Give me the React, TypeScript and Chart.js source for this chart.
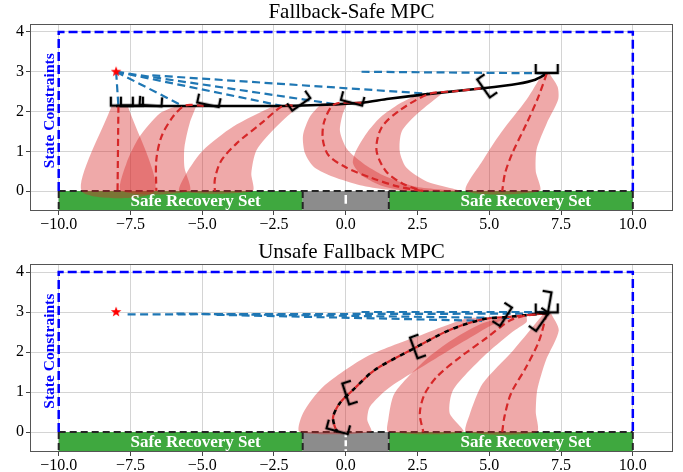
import React, { useEffect, useRef } from 'react';
import { Chart, registerables } from 'chart.js';

Chart.register(...registerables);

type P = [number, number];

const FONT = "'Liberation Serif', 'Times New Roman', serif";

// ---- axes ----
const xTicks = [-10, -7.5, -5, -2.5, 0, 2.5, 5, 7.5, 10];
const yTicks = [0, 1, 2, 3, 4];
const xRange: P = [-11, 11.4];
const yRange: P = [-0.5, 4.2];

// ---- texts ----
const titles = ['Fallback-Safe MPC', 'Unsafe Fallback MPC'];
const setLabel = 'Safe Recovery Set';
const setLabelX = [-7.5, 4.0];
const setLabelY = -0.26;
const constraintLabel = 'State Constraints';
const constraintLabelPos: P = [-10.3, 2.02];

// ---- static regions ----
const target: P = [-8, 3];
const constraintBox: P[] = [[-10, 0], [-10, 4], [10, 4], [10, 0]];
const safeLeft: P[] = [[-10, -0.5], [-10, 0], [-1.5, 0], [-1.5, -0.5]];
const safeRight: P[] = [[1.5, -0.5], [1.5, 0], [10, 0], [10, -0.5]];
const unsafeBox: P[] = [[-1.5, -0.5], [-1.5, 0], [1.5, 0], [1.5, -0.5]];
const boxEdges: P[][] = [
  [[-10, 0], [10, 0]],
  [[-10, 0], [-10, -0.5]],
  [[-1.5, 0], [-1.5, -0.5]],
  [[1.5, 0], [1.5, -0.5]],
  [[10, 0], [10, -0.5]],
];
const topLandingMark: P[] = [[0, -0.1], [0, -0.32]];
const bottomLandingMark: P[] = [[0, 0.02], [0, -0.48]];

// ---- top chart: Fallback-Safe MPC ----
const topTrajectory: P[] = [
  [7.0, 2.95], [6.6, 2.8], [6.0, 2.7], [4.7, 2.58], [3.0, 2.45], [1.5, 2.32],
  [0.55, 2.22], [-0.4, 2.18], [-1.5, 2.15], [-2.2, 2.14], [-4, 2.14], [-5.7, 2.14],
  [-7.0, 2.14], [-8.0, 2.14],
];
const topFallback1: P[] = [[7.0, 2.95], [6.7, 2.35], [6.3, 1.7], [5.8, 0.95], [5.55, 0.45], [5.45, 0]];
const topFallback2: P[] = [[4.7, 2.58], [3.8, 2.51], [2.9, 2.44], [1.9, 2.04], [1.25, 1.6], [1.07, 1.03], [1.4, 0.5], [2.0, 0.18], [2.7, 0]];
const topFallback3: P[] = [[0.55, 2.22], [-0.4, 2.18], [-0.75, 1.75], [-0.8, 1.3], [-0.6, 0.9], [0.0, 0.6], [0.9, 0.33], [1.8, 0.12], [2.7, 0]];
const topFallback4: P[] = [[-1.85, 2.15], [-2.2, 2.14], [-2.95, 1.7], [-3.8, 1.2], [-4.35, 0.75], [-4.56, 0.3], [-4.56, 0]];
const topFallback5: P[] = [[-4.95, 2.14], [-5.6, 2.15], [-6.02, 1.87], [-6.42, 1.37], [-6.6, 0.78], [-6.6, 0]];
const topFallback6: P[] = [[-7.92, 2.14], [-7.95, 0]];

const topBand1: P[] = [[6.85, 2.95], [6.3, 2.3], [5.4, 1.46], [4.8, 0.8], [4.2, 0], [6.75, 0], [6.62, 0.5], [6.65, 1.05], [7.0, 1.7], [7.4, 2.3], [7.38, 2.62], [7.1, 2.95]];
const topBand2: P[] = [[2.5, 2.43], [1.88, 2.2], [1.2, 1.85], [0.72, 1.45], [0.35, 1.0], [0.25, 0.7], [0.55, 0.4], [1.3, 0.12], [2.2, 0], [4.0, 0], [2.8, 0.25], [2.1, 0.6], [1.88, 1.0], [1.95, 1.5], [2.5, 1.95], [3.4, 2.48]];
const topBand3: P[] = [[-0.85, 2.2], [-1.25, 1.87], [-1.49, 1.4], [-1.42, 0.95], [-1.1, 0.6], [-0.44, 0.36], [0.5, 0.15], [1.4, 0.04], [2.3, 0], [3.9, 0], [2.46, 0.11], [1.3, 0.4], [0.6, 0.7], [0.05, 1.05], [-0.2, 1.5], [-0.12, 1.9], [0.05, 2.2]];
const topBand4: P[] = [[-2.53, 2.14], [-3.93, 1.62], [-4.97, 1.03], [-5.55, 0.45], [-5.78, 0], [-3.25, 0], [-3.29, 0.45], [-3.11, 1.03], [-2.42, 1.62], [-1.6, 2.16]];
const topBand5: P[] = [[-5.85, 2.15], [-6.48, 1.95], [-7.18, 1.37], [-7.64, 0.7], [-7.82, 0], [-5.45, 0], [-5.62, 0.6], [-5.62, 1.1], [-5.44, 1.7], [-5.2, 2.15]];
const topBand6: P[] = [[-8.15, 2.15], [-9.2, 0], [-6.65, 0], [-7.6, 2.15]];

const topPlans: P[][] = [
  [[0.55, 3.0], [6.95, 2.96]],
  [[-6.74, 2.91], [2.85, 2.45]],
  [[-8, 3], [-0.4, 2.19]],
  [[-8, 3], [-2.2, 2.14]],
  [[-8, 3], [-5.68, 2.14]],
  [[-8, 3], [-7.92, 2.14]],
];

const topGlyphX = [-7.8, -7.45, -6.8, -4.8, -1.55, 0.2, 4.8, 7.0];
const topGlyphY = [2.15, 2.15, 2.15, 2.17, 2.18, 2.22, 2.58, 2.97];
const topGlyphRot = [0, 0, 4, 12, -35, 15, 55, 0];

// ---- bottom chart: Unsafe Fallback MPC ----
const bottomTrajectory: P[] = [
  [7.0, 2.97], [5.7, 2.88], [4.79, 2.82], [3.62, 2.55], [2.35, 2.08], [1.01, 1.55],
  [0.25, 1.05], [-0.21, 0.72], [-0.44, 0.38], [-0.38, 0.13], [-0.28, 0.0],
];
const bottomFallback1: P[] = [[7.0, 2.97], [6.74, 2.29], [6.29, 1.63], [5.76, 0.97], [5.53, 0.39], [5.45, 0]];
const bottomFallback2: P[] = [[7.0, 2.97], [6.2, 2.9], [5.7, 2.78], [4.9, 2.35], [4.0, 1.88], [3.2, 1.4], [2.75, 0.95], [2.58, 0.47], [2.7, 0]];

const bottomBand1: P[] = [[6.9, 2.97], [5.83, 2.04], [4.77, 1.21], [4.3, 0.4], [4.2, 0], [6.65, 0], [6.62, 0.5], [6.67, 1.05], [6.97, 1.79], [7.42, 2.54], [7.15, 2.97]];
const bottomBand2: P[] = [[5.6, 2.88], [4.7, 2.7], [3.7, 2.3], [2.8, 1.82], [1.7, 0.97], [1.48, 0.3], [1.48, 0], [4.09, 0], [3.62, 0.47], [3.74, 1.05], [4.79, 1.88], [5.8, 2.5], [6.3, 2.75], [6.3, 2.88]];
const bottomBand3: P[] = [[4.8, 2.86], [4.2, 2.84], [2.46, 2.38], [0.72, 1.88], [-0.79, 1.13], [-1.49, 0.47], [-1.6, 0], [0.88, 0], [0.75, 0.3], [0.84, 0.63], [1.5, 1.1], [3.05, 1.8], [4.9, 2.6], [5.5, 2.82]];

const bottomPlans: P[][] = [
  [[0.55, 3.0], [7.0, 3.0]],
  [[-7.6, 2.94], [6.9, 2.96]],
  [[-5.9, 2.96], [5.7, 2.85]],
  [[-4.5, 2.93], [4.75, 2.78]],
];

const bottomGlyphX = [7.0, 7.1, 6.85, 5.58, 2.37, 0.0, -0.3];
const bottomGlyphY = [2.99, 3.22, 2.75, 2.88, 2.1, 0.95, 0.02];
const bottomGlyphRot = [0, -80, -55, -57, 70, 72, 15];

// ---- styles ----
const BAND = 'rgba(214,39,40,0.4)';
const RED = '#d62728';
const BLUE = '#1f77b4';

const toXY = (pts: P[]) => pts.map(([x, y]) => ({ x, y }));

function makeGlyph(): HTMLCanvasElement {
  const c = document.createElement('canvas');
  c.width = 30;
  c.height = 30;
  const g = c.getContext('2d')!;
  g.strokeStyle = '#000';
  g.lineWidth = 2.4;
  g.lineJoin = 'miter';
  g.beginPath();
  g.moveTo(4, 6);
  g.lineTo(4, 15);
  g.lineTo(26, 15);
  g.lineTo(26, 6);
  g.stroke();
  return c;
}

function makeStar(): HTMLCanvasElement {
  const c = document.createElement('canvas');
  c.width = 14;
  c.height = 14;
  const g = c.getContext('2d')!;
  g.fillStyle = '#ff0000';
  g.beginPath();
  for (let i = 0; i < 10; i++) {
    const r = i % 2 === 0 ? 5.5 : 2.3;
    const a = -Math.PI / 2 + (i * Math.PI) / 5;
    const px = 7 + r * Math.cos(a);
    const py = 7 + r * Math.sin(a);
    if (i === 0) g.moveTo(px, py);
    else g.lineTo(px, py);
  }
  g.closePath();
  g.fill();
  return c;
}

function polygon(pts: P[], color: string, tension = 0.2) {
  return {
    data: toXY(pts), showLine: true, borderWidth: 0, pointRadius: 0,
    fill: 'shape', backgroundColor: color, borderColor: 'rgba(0,0,0,0)', tension,
  };
}

function line(pts: P[], color: string, width: number, dash: number[] = [], offset = 0, tension = 0.3) {
  return {
    data: toXY(pts), showLine: true, borderColor: color, borderWidth: width,
    borderDash: dash, borderDashOffset: offset, pointRadius: 0, fill: false, tension,
    borderCapStyle: 'butt',
  };
}

function glyphs(xs: number[], ys: number[], rots: number[], img: HTMLCanvasElement) {
  return {
    data: xs.map((x, i) => ({ x, y: ys[i] })), showLine: false, pointStyle: img,
    pointRotation: rots, pointRadius: 5, fill: false,
  };
}

interface PanelSpec {
  title: string;
  bands: P[][];
  plans: P[][];
  trajectory: P[];
  trajectoryDashed: boolean;
  fallbacks: P[][];
  glyphX: number[];
  glyphY: number[];
  glyphRot: number[];
  landing: P[];
  landingDash: number[];
  topPad: number;
  titleY: number;
  xAxisHeight: number;
}

const panels: PanelSpec[] = [
  {
    title: titles[0],
    bands: [topBand1, topBand2, topBand3, topBand4, topBand5, topBand6],
    plans: topPlans,
    trajectory: topTrajectory,
    trajectoryDashed: false,
    fallbacks: [topFallback1, topFallback2, topFallback3, topFallback4, topFallback5, topFallback6],
    glyphX: topGlyphX, glyphY: topGlyphY, glyphRot: topGlyphRot,
    landing: topLandingMark, landingDash: [],
    topPad: 24,
    titleY: 12.5,
    xAxisHeight: 25,
  },
  {
    title: titles[1],
    bands: [bottomBand1, bottomBand2, bottomBand3],
    plans: bottomPlans,
    trajectory: bottomTrajectory,
    trajectoryDashed: true,
    fallbacks: [bottomFallback1, bottomFallback2],
    glyphX: bottomGlyphX, glyphY: bottomGlyphY, glyphRot: bottomGlyphRot,
    landing: bottomLandingMark, landingDash: [6, 3],
    topPad: 28,
    titleY: 16.5,
    xAxisHeight: 20,
  },
];

function buildDatasets(p: PanelSpec, glyphImg: HTMLCanvasElement, starImg: HTMLCanvasElement) {
  const layers: any[] = [];
  layers.push(polygon(safeLeft, '#3fa83f', 0));
  layers.push(polygon(safeRight, '#3fa83f', 0));
  layers.push(polygon(unsafeBox, '#8c8c8c', 0));
  boxEdges.forEach((e) => layers.push(line(e, '#262626', 2, [7, 4], 0, 0)));
  layers.push(line(p.landing, '#ffffff', 2.5, p.landingDash, 0, 0));
  layers.push(line(constraintBox, '#0000ff', 2.5, [9, 4], 0, 0));
  p.bands.forEach((b) => layers.push(polygon(b, BAND, 0.25)));
  p.plans.forEach((l) => layers.push(line(l, BLUE, 2.2, [8, 4.5], 0, 0)));
  if (p.trajectoryDashed) {
    layers.push(line(p.trajectory, '#000000', 2.6, [5, 5], 0, 0.3));
  } else {
    layers.push(line(p.trajectory, '#000000', 2.6, [], 0, 0.3));
  }
  p.fallbacks.forEach((f) => layers.push(line(f, RED, 2.2, [7, 4], 0, 0.3)));
  if (p.trajectoryDashed) {
    layers.push(line(p.trajectory, RED, 2.2, [5, 5], 5, 0.3));
  }
  layers.push(glyphs(p.glyphX, p.glyphY, p.glyphRot, glyphImg));
  layers.push({
    data: [{ x: target[0], y: target[1] }], showLine: false, pointStyle: starImg,
    pointRadius: 5, fill: false,
  });
  const n = layers.length;
  return layers.map((d, i) => ({ ...d, order: n - i }));
}

function makeOverlay(spec: PanelSpec) {
  return {
    id: 'overlayTexts',
    afterDatasetsDraw(chart: any) {
      const { ctx, chartArea: a, scales } = chart;
      const x = scales.x;
      const y = scales.y;
      ctx.save();
      ctx.fillStyle = '#ffffff';
      ctx.font = `bold 17px ${FONT}`;
      ctx.textAlign = 'left';
      ctx.textBaseline = 'middle';
      setLabelX.forEach((v) => ctx.fillText(setLabel, x.getPixelForValue(v), y.getPixelForValue(setLabelY)));
      ctx.restore();

      ctx.save();
      ctx.translate(x.getPixelForValue(constraintLabelPos[0]), y.getPixelForValue(constraintLabelPos[1]));
      ctx.rotate(-Math.PI / 2);
      ctx.fillStyle = '#0000ff';
      ctx.font = `bold 15.5px ${FONT}`;
      ctx.textAlign = 'center';
      ctx.textBaseline = 'middle';
      ctx.fillText(constraintLabel, 0, 0);
      ctx.restore();

      ctx.save();
      ctx.strokeStyle = '#555555';
      ctx.lineWidth = 1;
      ctx.strokeRect(a.left + 0.5, a.top + 0.5, a.right - a.left - 1, a.bottom - a.top - 1);
      ctx.restore();

      ctx.save();
      ctx.fillStyle = '#000000';
      ctx.font = `21px ${FONT}`;
      ctx.textAlign = 'center';
      ctx.textBaseline = 'middle';
      ctx.fillText(spec.title, (a.left + a.right) / 2, spec.titleY);
      ctx.restore();
    },
  };
}

const fmtX = (v: number) => (v < 0 ? '\u2212' + Math.abs(v).toFixed(1) : v.toFixed(1));

function Panel({ spec }: { spec: PanelSpec }) {
  const ref = useRef<HTMLCanvasElement>(null);
  useEffect(() => {
    if (!ref.current) return;
    const glyphImg = makeGlyph();
    const starImg = makeStar();
    const chart = new Chart(ref.current, {
      type: 'scatter',
      data: { datasets: buildDatasets(spec, glyphImg, starImg) as any },
      options: {
        animation: false,
        responsive: false,
        devicePixelRatio: 1,
        layout: { padding: { left: 0, right: 10, top: spec.topPad, bottom: 0 } },
        plugins: {
          legend: { display: false },
          tooltip: { enabled: false },
          title: { display: false },
        },
        scales: {
          x: {
            type: 'linear',
            min: xRange[0],
            max: xRange[1],
            afterBuildTicks: (s: any) => { s.ticks = xTicks.map((value) => ({ value })); },
            afterFit: (s: any) => { s.height = spec.xAxisHeight; },
            ticks: {
              color: '#000', font: { family: FONT, size: 16 }, padding: 0,
              maxRotation: 0, autoSkip: false,
              callback: (v: any) => fmtX(Number(v)),
            },
            grid: { color: '#d4d4d4', lineWidth: 1, tickLength: 4, tickColor: '#444' },
            border: { display: false },
          },
          y: {
            type: 'linear',
            min: yRange[0],
            max: yRange[1],
            afterBuildTicks: (s: any) => { s.ticks = yTicks.map((value) => ({ value })); },
            afterFit: (s: any) => { s.width = 30; },
            ticks: {
              color: '#000', font: { family: FONT, size: 16 }, padding: 2,
              callback: (v: any) => String(v),
            },
            grid: { color: '#d4d4d4', lineWidth: 1, tickLength: 4, tickColor: '#444' },
            border: { display: false },
          },
        },
      } as any,
      plugins: [makeOverlay(spec)],
    });
    return () => chart.destroy();
  }, [spec]);
  return <canvas ref={ref} width={683} height={236} style={{ display: 'block', width: 683, height: 236 }} />;
}

export default function App() {
  useEffect(() => {
    document.body.style.margin = '0';
    document.body.style.background = '#ffffff';
  }, []);
  return (
    <div style={{ width: 683, height: 472, background: '#fff' }}>
      {panels.map((p, i) => (
        <Panel key={i} spec={p} />
      ))}
    </div>
  );
}
